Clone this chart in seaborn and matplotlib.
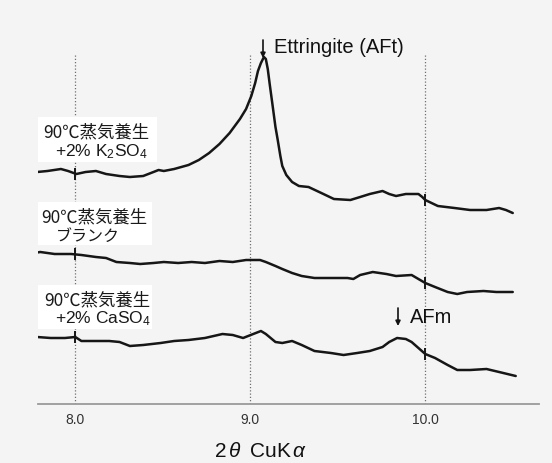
import matplotlib
matplotlib.use("Agg")
import matplotlib.pyplot as plt
from matplotlib.patches import Rectangle
import numpy as np
import pandas as pd
import seaborn as sns

# XRD traces (2θ in degrees, CuKα), intensities in arbitrary units, already offset for stacking
two_theta_k2so4 = [7.782, 7.841, 7.918, 7.959, 8.006, 8.059, 8.118, 8.176, 8.253, 8.312,
                   8.388, 8.447, 8.476, 8.506, 8.565, 8.647, 8.706, 8.765, 8.824, 8.882,
                   8.941, 8.976, 9.006, 9.028, 9.044, 9.061, 9.078, 9.089, 9.100, 9.111,
                   9.128, 9.144, 9.156, 9.172, 9.183, 9.206, 9.239, 9.278, 9.333, 9.406,
                   9.478, 9.572, 9.628, 9.683, 9.756, 9.794, 9.833, 9.889, 9.961, 9.983,
                   10.000, 10.072, 10.167, 10.256, 10.350, 10.422, 10.461, 10.500]
intensity_k2so4 = [232, 233, 235, 233, 230, 232, 233, 230, 228, 227,
                   228, 232, 234, 233, 235, 239, 244, 251, 260, 271,
                   285, 295, 308, 321, 333, 341, 347, 345, 335, 320,
                   298, 277, 265, 248, 238, 229, 222, 218, 217, 211,
                   205, 204, 207, 210, 213, 210, 208, 210, 210, 207,
                   204, 198, 196, 194, 194, 196, 194, 191]

two_theta_blank = [7.765, 7.800, 7.882, 7.976, 8.035, 8.118, 8.176, 8.235, 8.312, 8.371,
                   8.447, 8.506, 8.588, 8.665, 8.741, 8.824, 8.900, 8.976, 9.056, 9.089,
                   9.144, 9.183, 9.239, 9.294, 9.367, 9.461, 9.556, 9.589, 9.628, 9.700,
                   9.778, 9.833, 9.922, 9.961, 10.000, 10.056, 10.128, 10.183, 10.239, 10.333,
                   10.406, 10.500]
intensity_blank = [151, 152, 150, 150, 149, 147, 146, 142, 141, 140,
                   141, 142, 141, 142, 141, 143, 142, 144, 144, 142,
                   138, 135, 131, 128, 126, 126, 126, 125, 129, 132,
                   130, 128, 129, 125, 121, 117, 112, 110, 112, 113,
                   112, 112]

two_theta_caso4 = [7.782, 7.859, 7.941, 8.000, 8.035, 8.118, 8.194, 8.253, 8.312, 8.388,
                   8.488, 8.565, 8.647, 8.741, 8.841, 8.900, 8.959, 9.017, 9.061, 9.089,
                   9.144, 9.183, 9.239, 9.294, 9.367, 9.461, 9.533, 9.611, 9.683, 9.756,
                   9.794, 9.839, 9.889, 9.922, 9.961, 10.000, 10.056, 10.128, 10.183, 10.256,
                   10.350, 10.422, 10.517]
intensity_caso4 = [67, 66, 66, 67, 63, 63, 63, 62, 58, 59,
                   61, 63, 64, 66, 70, 69, 66, 70, 73, 70,
                   62, 61, 63, 59, 53, 51, 49, 51, 53, 57,
                   62, 66, 65, 62, 56, 50, 46, 39, 34, 34,
                   35, 32, 28]

tick_positions = [8.0, 9.0, 10.0]
tick_labels = ["8.0", "9.0", "10.0"]

series = {
    "K2SO4": (two_theta_k2so4, intensity_k2so4),
    "blank": (two_theta_blank, intensity_blank),
    "CaSO4": (two_theta_caso4, intensity_caso4),
}
df = pd.concat([pd.DataFrame({"two_theta": x, "intensity": y, "series": name})
                for name, (x, y) in series.items()], ignore_index=True)

sns.set_theme(style="white")
plt.rcParams["font.family"] = ["Liberation Sans", "Noto Sans CJK JP", "DejaVu Sans"]
plt.rcParams["mathtext.fontset"] = "custom"
plt.rcParams["mathtext.rm"] = "Liberation Sans"
plt.rcParams["mathtext.it"] = "Liberation Sans:italic"

bg = "#f4f4f4"
W, H = 552, 464
fig = plt.figure(figsize=(W / 100, H / 100), dpi=100, facecolor=bg)
ax = fig.add_axes([38 / W, 1 - 405 / H, 501 / W, 405 / H])
ax.set_facecolor(bg)

XMIN, XMAX = 7.787, 10.650
ax.set_xlim(XMIN, XMAX)
ax.set_ylim(0, 405)


def dx(px):
    return XMIN + (px - 38) * (XMAX - XMIN) / 501


def dy(py):
    return 405 - py


# dotted reference lines at the labelled 2θ values
ax.vlines(tick_positions, 0, 350, colors="#707070", linestyles=(0, (1, 1.6)),
          linewidth=0.9, zorder=1)

sns.lineplot(data=df, x="two_theta", y="intensity", hue="series", estimator=None,
             sort=False, palette=["#161616"] * 3, legend=False, linewidth=1.8,
             ax=ax, zorder=4)

# short fiducial marks where each trace crosses the 8.0 and 10.0 lines
for name, (x, y) in series.items():
    for t in (8.0, 10.0):
        yc = np.interp(t, x, y)
        ax.vlines(t, yc - 6, yc + 6, colors="#161616", linewidth=1.4, zorder=4)

# white label panels
for (x0, y0, x1, y1) in [(37, 118, 157, 163), (35, 203, 152, 246), (37, 286, 152, 330)]:
    ax.add_patch(Rectangle((dx(x0), dy(y1)), dx(x1) - dx(x0), dy(y0) - dy(y1),
                           facecolor="white", edgecolor="none", zorder=2))

jp = ["Noto Sans CJK JP", "DejaVu Sans"]
en = ["Liberation Sans", "DejaVu Sans"]
lab_kw = dict(fontsize=12.5, color="#1a1a1a", va="center", ha="left", zorder=3)

ax.text(dx(43), dy(132), "90℃蒸気養生", family=jp, **lab_kw)
ax.text(dx(55), dy(152), "+2% K$_2$SO$_4$", family=en, **lab_kw)
ax.text(dx(41), dy(217), "90℃蒸気養生", family=jp, **lab_kw)
ax.text(dx(88), dy(236), "ブランク", family=jp, fontsize=11.5, color="#1a1a1a",
        va="center", ha="center", zorder=3)
ax.text(dx(44), dy(300), "90℃蒸気養生", family=jp, **lab_kw)
ax.text(dx(55), dy(319), "+2% CaSO$_4$", family=en, **lab_kw)

# peak markers
arrow_kw = dict(arrowstyle="-|>", color="#111111", lw=1.2, mutation_scale=7,
                shrinkA=0, shrinkB=0)
ax.annotate("", xy=(dx(263), dy(59)), xytext=(dx(263), dy(41)), arrowprops=arrow_kw,
            zorder=5)
ax.text(dx(274), dy(53), "Ettringite (AFt)", family=en, fontsize=14.5,
        color="#111111", ha="left", va="baseline", zorder=5)
ax.annotate("", xy=(dx(398), dy(327)), xytext=(dx(398), dy(309)), arrowprops=arrow_kw,
            zorder=5)
ax.text(dx(410), dy(323), "AFm", family=en, fontsize=14.5,
        color="#111111", ha="left", va="baseline", zorder=5)

for side in ["left", "top", "right"]:
    ax.spines[side].set_visible(False)
ax.spines["bottom"].set_color("#9a9a9a")
ax.spines["bottom"].set_linewidth(1.3)
ax.set_yticks([])
ax.set_xticks(tick_positions, tick_labels)
ax.tick_params(axis="x", length=0, pad=6, labelsize=10, labelcolor="#333333")
ax.set_xlabel("")
ax.set_ylabel("")

fig.text(261 / W, 1 - 452 / H, r"2$\,\theta\;\;$CuK$\,\alpha$", fontsize=15,
         color="#111111", ha="center", va="center")

fig.savefig("out.png", dpi=100, facecolor=bg)
